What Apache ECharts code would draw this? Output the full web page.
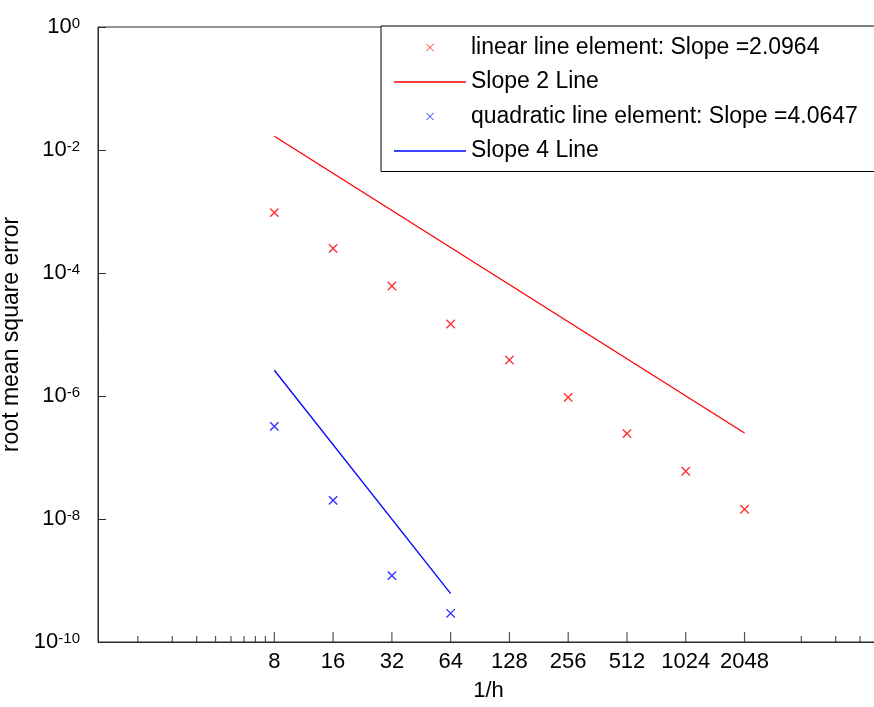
<!DOCTYPE html>
<html><head><meta charset="utf-8">
<script src="https://cdn.jsdelivr.net/npm/echarts@6/dist/echarts.min.js"></script>
<style>html,body{margin:0;padding:0;background:#fff}#c{width:874px;height:707px}</style>
</head><body><div id="c"></div>
<script>
// ---- data ----
const hValues   = [8, 16, 32, 64, 128, 256, 512, 1024, 2048];
const linearErr = [9.6e-4, 2.52e-4, 6.15e-5, 1.48e-5, 3.85e-6, 9.5e-7, 2.44e-7, 5.97e-8, 1.44e-8];
const slope2X   = [8, 2048];
const slope2Y   = [1.67e-2, 2.5e-7];
const quadH     = [8, 16, 32, 64];
const quadErr   = [3.21e-7, 2.01e-8, 1.20e-9, 2.93e-10];
const slope4X   = [8, 64];
const slope4Y   = [2.62e-6, 6.12e-10];
const xTickLabels = [8, 16, 32, 64, 128, 256, 512, 1024, 2048];
const xMinorTicks = [1.6, 2.4, 3.2, 4, 4.8, 5.6, 6.4, 7.2, 4000, 6000, 8000];
const seriesNames = ['linear line element: Slope =2.0964', 'Slope 2 Line',
                     'quadratic line element: Slope =4.0647', 'Slope 4 Line'];
const xName = '1/h';
const yName = 'root mean square error';

// ---- chart ----
const FONT = 'Liberation Sans, Arial, sans-serif';
const AX = '#2a2a2a';
const xMark = 'path://M0,0M24,24M8,8L16,16M16,8L8,16';
const lineIcon = 'path://M0,0L72,0L72,1.3L0,1.3Z';
const yMin = 1e-10;
const pairs = (xs, ys) => xs.map((x, i) => [x, ys[i]]);

const chart = echarts.init(document.getElementById('c'), null, {renderer: 'canvas'});
chart.setOption({
  animation: false,
  backgroundColor: '#fff',
  textStyle: {fontFamily: FONT},
  grid: {left: 98, top: 27, right: -5, bottom: 65, containLabel: false, outerBoundsMode: 'none',
         show: true, borderColor: AX, borderWidth: 1, backgroundColor: 'transparent'},
  legend: {
    orient: 'vertical', left: 381, right: -80, top: 26,
    padding: [10, 45, 9, 13], itemWidth: 72, itemHeight: 22, itemGap: 11.5,
    borderColor: '#000', borderWidth: 1, backgroundColor: '#fff',
    itemStyle: {borderWidth: 1},
    textStyle: {fontSize: 23, color: '#000', fontFamily: FONT},
    data: [
      {name: seriesNames[0]},
      {name: seriesNames[1], icon: lineIcon, itemStyle: {borderWidth: 0}},
      {name: seriesNames[2]},
      {name: seriesNames[3], icon: lineIcon, itemStyle: {borderWidth: 0}}
    ]
  },
  xAxis: {
    type: 'log', logBase: 2, min: 1, max: 10000, interval: 1,
    name: xName, nameLocation: 'middle', nameGap: 38,
    nameTextStyle: {fontSize: 22, color: '#000', fontFamily: FONT},
    axisLine: {lineStyle: {color: AX, width: 1}},
    axisTick: {show: false},
    splitLine: {show: false},
    axisLabel: {
      fontSize: 22, color: '#000', margin: 9, fontFamily: FONT,
      showMinLabel: true, showMaxLabel: true,
      formatter: v => (xTickLabels.indexOf(Math.round(v)) >= 0 ? String(Math.round(v)) : '')
    }
  },
  yAxis: {
    type: 'log', logBase: 10, min: yMin, max: 1, interval: 2,
    name: yName, nameLocation: 'middle', nameGap: 70,
    nameTextStyle: {fontSize: 23, color: '#000', fontFamily: FONT},
    axisLine: {lineStyle: {color: AX, width: 1}},
    axisTick: {show: true, inside: true, length: 8, lineStyle: {color: AX}},
    splitLine: {show: false},
    axisLabel: {
      margin: 18, color: '#000', fontFamily: FONT,
      formatter: v => '{b|10}{e|' + Math.round(Math.log10(v)) + '}',
      rich: {
        b: {fontSize: 22, lineHeight: 22, verticalAlign: 'bottom', color: '#000', fontFamily: FONT},
        e: {fontSize: 15, lineHeight: 15, padding: [0, 0, 15, 0], verticalAlign: 'top', color: '#000', fontFamily: FONT}
      }
    }
  },
  series: [
    {name: seriesNames[0], type: 'scatter', data: pairs(hValues, linearErr),
     symbol: xMark, symbolSize: 25, z: 3,
     itemStyle: {color: 'rgba(0,0,0,0)', borderColor: '#ff0000', borderWidth: 1.4}},
    {name: seriesNames[1], type: 'line', data: pairs(slope2X, slope2Y),
     symbol: 'none', showSymbol: false, lineStyle: {color: '#ff0000', width: 1.3}, itemStyle: {color: '#ff0000'}},
    {name: seriesNames[2], type: 'scatter', data: pairs(quadH, quadErr),
     symbol: xMark, symbolSize: 25, z: 3,
     itemStyle: {color: 'rgba(0,0,0,0)', borderColor: '#0000ff', borderWidth: 1.4}},
    {name: seriesNames[3], type: 'line', data: pairs(slope4X, slope4Y),
     symbol: 'none', showSymbol: false, lineStyle: {color: '#0000ff', width: 1.3}, itemStyle: {color: '#0000ff'}},
    // x-axis tick marks (inside), major and minor
    {name: 'xMajorTicks', type: 'scatter', silent: true, clip: false, z: 4,
     data: xTickLabels.map(v => [v, yMin]), symbol: 'rect', symbolSize: [1.2, 10], symbolOffset: [0, -5],
     itemStyle: {color: AX}},
    {name: 'xMinorTicks', type: 'scatter', silent: true, clip: false, z: 4,
     data: xMinorTicks.map(v => [v, yMin]), symbol: 'rect', symbolSize: [1.2, 6], symbolOffset: [0, -3],
     itemStyle: {color: AX}}
  ]
});
</script></body></html>
